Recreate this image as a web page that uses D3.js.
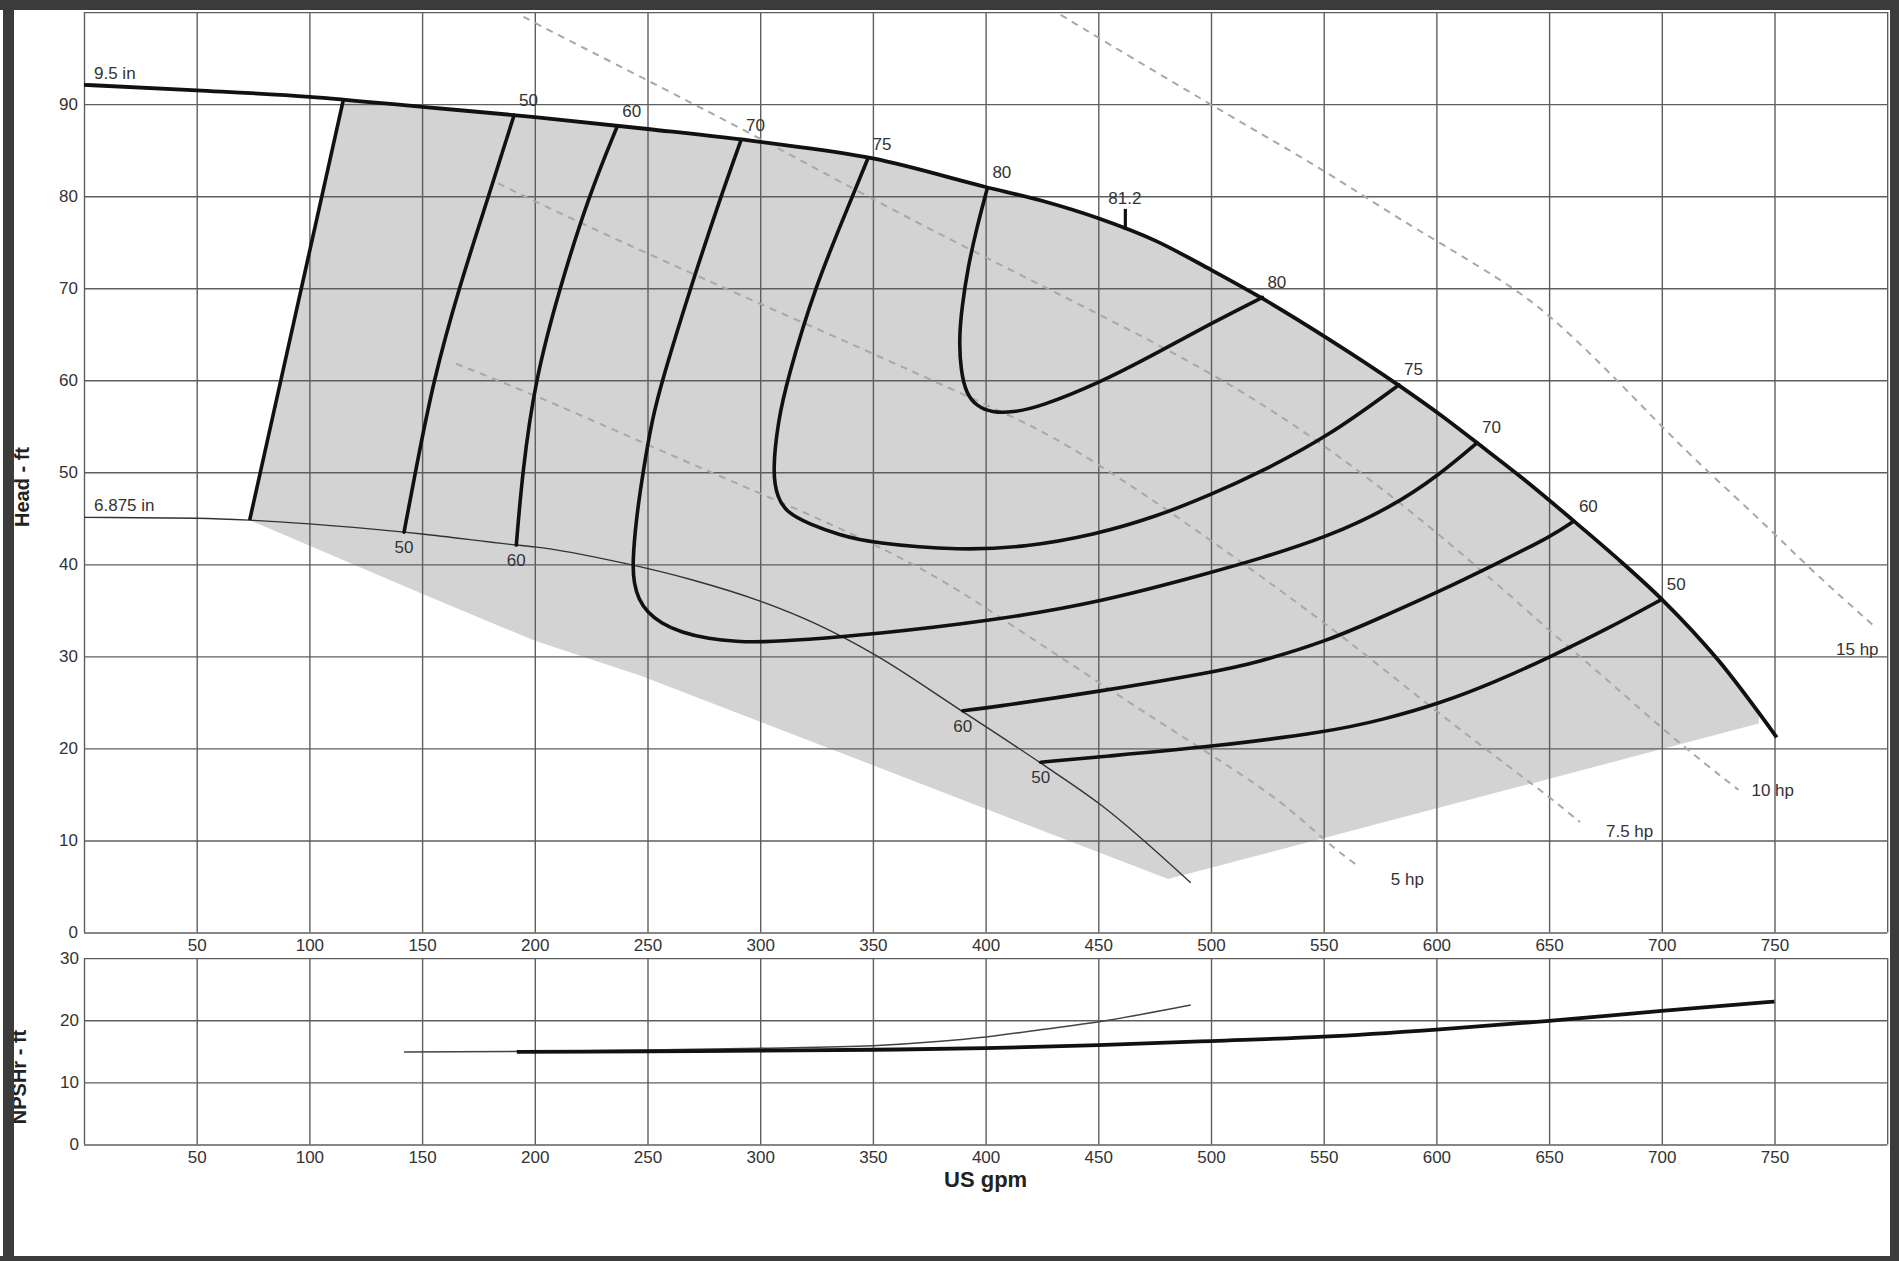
<!DOCTYPE html>
<html>
<head>
<meta charset="utf-8">
<script src="https://cdn.jsdelivr.net/npm/d3@7"></script>
<style>
  html, body { margin: 0; padding: 0; background: #fff; }
  svg { display: block; }
</style>
</head>
<body>
<svg id="chart" width="1899" height="1261"></svg>
<script>
// ---------- Pump performance data (flow in US gpm, head / NPSHr in ft) ----------

// Full impeller (9.5 in) head curve
const head95 = [[0,92.1],[50,91.5],[100,90.8],[150,89.7],[200,88.6],[250,87.3],[300,85.9],[350,84.1],
  [400,81.0],[425,79.5],[450,77.6],[475,75.2],[500,72.0],[522,69.0],[552,64.5],[583,59.5],[602,56.2],
  [618,53.2],[640,49.0],[661,44.7],[680,40.7],[700,36.2],[725,29.6],[751,21.2]];

// Minimum impeller (6.875 in) head curve
const head6875 = [[0,45.1],[50,45.0],[73.5,44.8],[100,44.4],[142,43.5],[150,43.3],[191.8,42.1],[200,41.9],
  [240,40.1],[270,38.3],[300,36.0],[325,33.5],[350,30.3],[388,24.3],[424.5,18.4],[451.5,13.8],[491,5.4]];

// Minimum-flow boundary of the operating region
const minFlowLine = [[73.5,44.8],[115,90.4]];

// Lower boundary of the shaded operating region (right to left)
const shadeLower = [[743,22.7],[481,5.8],[247,27.9],[200,31.7],[150,36.8],[73.5,44.8]];
const shadeRightFlow = 743;

// Iso-efficiency contours (%)
const eff50Left = [[190.8,88.8],[179.5,80],[166.3,70],[155,60],[147,50],[142,43.5]];
const eff60Left = [[236.6,87.6],[223.9,80],[211,70],[200.1,60],[194.5,50],[191.8,42.1]];
const eff70 = [[291.5,86.1],[282.6,80],[269,70],[256.5,60],[252,55.7],[248,50],[245,45],[243.3,40],
  [244,38],[246,36.2],[250,34.8],[256,33.6],[265,32.6],[277,31.9],[290,31.6],[300,31.55],[320,31.8],
  [350,32.4],[400.8,33.8],[451.5,35.9],[501.3,39.2],[520,40.5],[552,43.0],[580,46.2],[601.7,49.8],[618,53.2]];
const eff75 = [[347.6,84.0],[341,80],[324,70],[312,60],[308,55.7],[305.4,50],[307.6,47.2],[312,45.6],
  [321.5,44.4],[335,43.2],[350,42.3],[388.8,41.5],[418.5,41.9],[448,43.2],[475,45.1],[501.3,47.7],
  [521.7,50],[552.1,53.9],[583.4,59.5]];
const eff80 = [[400.8,80.9],[396,76.5],[392.2,72.3],[389.5,68],[388.2,64.5],[389,61],[391.5,58.5],
  [396,57.2],[402.7,56.5],[412,56.5],[424,57.1],[450.5,59.7],[476.3,63.0],[501,66.3],[522.8,69.0]];
const eff60Right = [[389.9,24.1],[400.8,24.4],[451,26.2],[501,28.3],[520,29.3],[552,31.7],[576,34.3],
  [601.7,37.1],[626,40.0],[651.5,43.1],[661,44.7]];
const eff50Right = [[424.5,18.5],[451,19.1],[501,20.2],[552,21.8],[576,23.1],[601.7,24.9],[626,27.2],
  [651,30.0],[676,33.0],[700,36.2]];

// Best efficiency point on the full impeller
const bepFlow = 462;
const bepEff = "81.2";

// Constant power lines (hp)
const hp5 = [[165,61.8],[207,57.7],[270,50.8],[335,44.1],[379,38.7],[409,33.8],[442,28.5],[470,24.0],
  [500,19.3],[531,14.4],[553,9.4],[566,7.1]];
const hp7_5 = [[183.7,81.4],[206,78.7],[272,71.3],[330,65.1],[382.6,59.3],[408.6,56.4],[434.4,53.4],
  [483,45.6],[532.4,36.9],[560.3,31.8],[591.9,25.6],[612.9,21.6],[633.9,17.7],[649.7,14.8],[663.7,12.0]];
const hp10 = [[195,99.5],[201.7,98.6],[246.7,93.0],[300,86.3],[355.5,78.9],[402.7,73.0],[460,66.0],
  [514.9,58.9],[570,49.6],[623.4,38.7],[653.2,32.1],[677.7,27.1],[705.8,20.9],[734,15.5]];
const hp15 = [[433.3,99.7],[476,93.4],[519.1,87.2],[550.3,82.8],[579.7,78.1],[601.8,74.9],[634.8,70.0],
  [651.3,66.8],[669.7,62.6],[693.6,56.6],[706.4,53.4],[721.1,49.9],[746.9,44.1],[767,39.2],[794.6,33.2]];
const hpNames = ["5 hp","7.5 hp","10 hp","15 hp"];

// NPSH required
const npsh6875 = [[142,14.9],[200,15.0],[250,15.2],[300,15.5],[350,15.9],[380,16.6],[400,17.3],
  [425,18.5],[451,19.8],[491,22.45]];
const npsh95 = [[192,14.9],[250,15.0],[300,15.1],[350,15.25],[400,15.5],[450,16.0],[500,16.65],
  [550,17.35],[600,18.5],[650,19.9],[700,21.5],[750,23.0]];

// Axis ticks
const flowTicks = [50,100,150,200,250,300,350,400,450,500,550,600,650,700,750];
const flowGrid = d3.range(0, 801, 50);
const headTicks = [0,10,20,30,40,50,60,70,80,90];
const headGrid = d3.range(0, 101, 10);
const npshTicks = [0,10,20,30];

// ---------- Layout ----------
const svg = d3.select("#chart");
const FONT = "'Liberation Sans', Arial, sans-serif";

const x = d3.scaleLinear().domain([0, 800]).range([84, 1887.2]);
const yH = d3.scaleLinear().domain([0, 100]).range([932.5, 12.1]);
const yN = d3.scaleLinear().domain([0, 30]).range([1144.5, 958.1]);

function interp(pts, q) {
  for (let i = 0; i < pts.length - 1; i++) {
    const a = pts[i], b = pts[i + 1];
    if (q >= a[0] && q <= b[0]) return a[1] + (b[1] - a[1]) * (q - a[0]) / (b[0] - a[0]);
  }
  return pts[pts.length - 1][1];
}

// head / NPSH curves are single-valued in flow; contours and power lines are smoothed splines
const headLine = d3.line().x(d => x(d[0])).y(d => yH(d[1])).curve(d3.curveMonotoneX);
const contourLine = d3.line().x(d => x(d[0])).y(d => yH(d[1])).curve(d3.curveBasis);
const npshLine = d3.line().x(d => x(d[0])).y(d => yN(d[1])).curve(d3.curveMonotoneX);
const straight = d3.line().x(d => x(d[0])).y(d => yH(d[1]));

svg.append("rect").attr("width", 1899).attr("height", 1261).attr("fill", "#fff");

// ---------- Shaded operating region ----------
const topStart = minFlowLine[1];
const topEdge = [topStart]
  .concat(head95.filter(p => p[0] > topStart[0] && p[0] < shadeRightFlow))
  .concat([[shadeRightFlow, interp(head95, shadeRightFlow)]]);
const shadePath = headLine(topEdge) +
  shadeLower.map(p => "L" + x(p[0]) + "," + yH(p[1])).join("") + "Z";
svg.append("path").attr("d", shadePath).attr("fill", "#d3d3d3");

// ---------- Grids ----------
const gridColor = "#5e5e5e";
function styleGrid(g) {
  g.select(".domain").remove();
  g.selectAll(".tick line").attr("stroke", gridColor).attr("stroke-width", 1.4);
  g.selectAll(".tick text").remove();
}
// head panel
svg.append("g").attr("transform", `translate(0,${yH(0)})`)
  .call(d3.axisBottom(x).tickValues(flowGrid).tickSize(-(yH(0) - yH(100))).tickFormat(""))
  .call(styleGrid);
svg.append("g").attr("transform", `translate(${x(0)},0)`)
  .call(d3.axisLeft(yH).tickValues(headGrid).tickSize(-(x(800) - x(0))).tickFormat(""))
  .call(styleGrid);
// NPSH panel
svg.append("g").attr("transform", `translate(0,${yN(0)})`)
  .call(d3.axisBottom(x).tickValues(flowGrid).tickSize(-(yN(0) - yN(30))).tickFormat(""))
  .call(styleGrid);
svg.append("g").attr("transform", `translate(${x(0)},0)`)
  .call(d3.axisLeft(yN).tickValues(npshTicks).tickSize(-(x(800) - x(0))).tickFormat(""))
  .call(styleGrid);

// ---------- Tick labels ----------
function styleLabels(g) {
  g.select(".domain").remove();
  g.selectAll(".tick line").remove();
  g.selectAll(".tick text").attr("font-family", FONT).attr("font-size", 17).attr("fill", "#333");
}
svg.append("g").attr("transform", `translate(0,${yH(0)})`)
  .call(d3.axisBottom(x).tickValues(flowTicks).tickSize(0).tickPadding(6.5).tickFormat(d3.format("d")))
  .call(styleLabels);
svg.append("g").attr("transform", `translate(0,${yN(0)})`)
  .call(d3.axisBottom(x).tickValues(flowTicks).tickSize(0).tickPadding(6.5).tickFormat(d3.format("d")))
  .call(styleLabels);
svg.append("g").attr("transform", `translate(${x(0)},0)`)
  .call(d3.axisLeft(yH).tickValues(headTicks).tickSize(0).tickPadding(6).tickFormat(d3.format("d")))
  .call(styleLabels);
svg.append("g").attr("transform", `translate(${x(0)},0)`)
  .call(d3.axisLeft(yN).tickValues(npshTicks).tickSize(0).tickPadding(5).tickFormat(d3.format("d")))
  .call(styleLabels);

// ---------- Constant power lines ----------
const hpLines = [hp5, hp7_5, hp10, hp15];
const hpLabelOffset = [[31, 17.6], [26, 15], [13, 6], [-39, 28]];
hpLines.forEach((pts, i) => {
  svg.append("path").attr("d", contourLine(pts)).attr("fill", "none")
    .attr("stroke", "#a8a8a8").attr("stroke-width", 2).attr("stroke-dasharray", "7,6");
  const end = pts[pts.length - 1];
  svg.append("text").attr("x", x(end[0]) + hpLabelOffset[i][0]).attr("y", yH(end[1]) + hpLabelOffset[i][1])
    .attr("font-family", FONT).attr("font-size", 17).attr("fill", "#333").text(hpNames[i]);
});

// ---------- Head curves ----------
svg.append("path").attr("d", headLine(head6875)).attr("fill", "none")
  .attr("stroke", "#333").attr("stroke-width", 1.4);
svg.append("path").attr("d", straight(minFlowLine)).attr("fill", "none")
  .attr("stroke", "#111").attr("stroke-width", 3.6);

const effPieces = [
  { label: "50", pts: eff50Left, ends: ["top", "low"] },
  { label: "60", pts: eff60Left, ends: ["top", "low"] },
  { label: "70", pts: eff70, ends: ["top", "top"] },
  { label: "75", pts: eff75, ends: ["top", "top"] },
  { label: "80", pts: eff80, ends: ["top", "top"] },
  { label: "60", pts: eff60Right, ends: ["low", "top"] },
  { label: "50", pts: eff50Right, ends: ["low", "top"] }
];
effPieces.forEach(piece => {
  svg.append("path").attr("d", contourLine(piece.pts)).attr("fill", "none")
    .attr("stroke", "#111").attr("stroke-width", 3.6).attr("stroke-linecap", "round");
  [piece.pts[0], piece.pts[piece.pts.length - 1]].forEach((p, k) => {
    const onTop = piece.ends[k] === "top";
    svg.append("text")
      .attr("x", x(p[0]) + (onTop ? 5 : 0))
      .attr("y", yH(p[1]) + (onTop ? -9.5 : 21))
      .attr("text-anchor", onTop ? "start" : "middle")
      .attr("font-family", FONT).attr("font-size", 17).attr("fill", "#333")
      .text(piece.label);
  });
});

svg.append("path").attr("d", headLine(head95)).attr("fill", "none")
  .attr("stroke", "#111").attr("stroke-width", 3.8);

// best efficiency marker
const bepY = yH(interp(head95, bepFlow));
svg.append("line").attr("x1", x(bepFlow)).attr("x2", x(bepFlow)).attr("y1", bepY + 1).attr("y2", bepY - 20)
  .attr("stroke", "#111").attr("stroke-width", 3.2);
svg.append("text").attr("x", x(bepFlow) - 17).attr("y", bepY - 25)
  .attr("font-family", FONT).attr("font-size", 17).attr("fill", "#333").text(bepEff);

// diameter labels
svg.append("text").attr("x", x(0) + 10).attr("y", yH(head95[0][1]) - 6)
  .attr("font-family", FONT).attr("font-size", 17).attr("fill", "#333").text("9.5 in");
svg.append("text").attr("x", x(0) + 10).attr("y", yH(head6875[0][1]) - 6)
  .attr("font-family", FONT).attr("font-size", 17).attr("fill", "#333").text("6.875 in");

// ---------- NPSHr curves ----------
svg.append("path").attr("d", npshLine(npsh6875)).attr("fill", "none")
  .attr("stroke", "#444").attr("stroke-width", 1.5);
svg.append("path").attr("d", npshLine(npsh95)).attr("fill", "none")
  .attr("stroke", "#111").attr("stroke-width", 3.8);

// ---------- Axis titles ----------
svg.append("text").attr("x", x(400)).attr("y", 1187).attr("text-anchor", "middle")
  .attr("font-family", FONT).attr("font-size", 22).attr("font-weight", "bold").attr("fill", "#222")
  .text("US gpm");
svg.append("text").attr("transform", "translate(29,487) rotate(-90)").attr("text-anchor", "middle")
  .attr("font-family", FONT).attr("font-size", 20).attr("font-weight", "bold").attr("fill", "#222")
  .text("Head - ft");
svg.append("text").attr("transform", "translate(26,1077) rotate(-90)").attr("text-anchor", "middle")
  .attr("font-family", FONT).attr("font-size", 20).attr("font-weight", "bold").attr("fill", "#222")
  .text("NPSHr - ft");

// ---------- Outer frame ----------
const frame = "#3b3b3b";
svg.append("rect").attr("x", 0).attr("y", 0).attr("width", 1899).attr("height", 10).attr("fill", frame);
svg.append("rect").attr("x", 3).attr("y", 0).attr("width", 11).attr("height", 1261).attr("fill", frame);
svg.append("rect").attr("x", 1890).attr("y", 0).attr("width", 9).attr("height", 1261).attr("fill", frame);
svg.append("rect").attr("x", 0).attr("y", 1256).attr("width", 1899).attr("height", 5).attr("fill", frame);
</script>
</body>
</html>
